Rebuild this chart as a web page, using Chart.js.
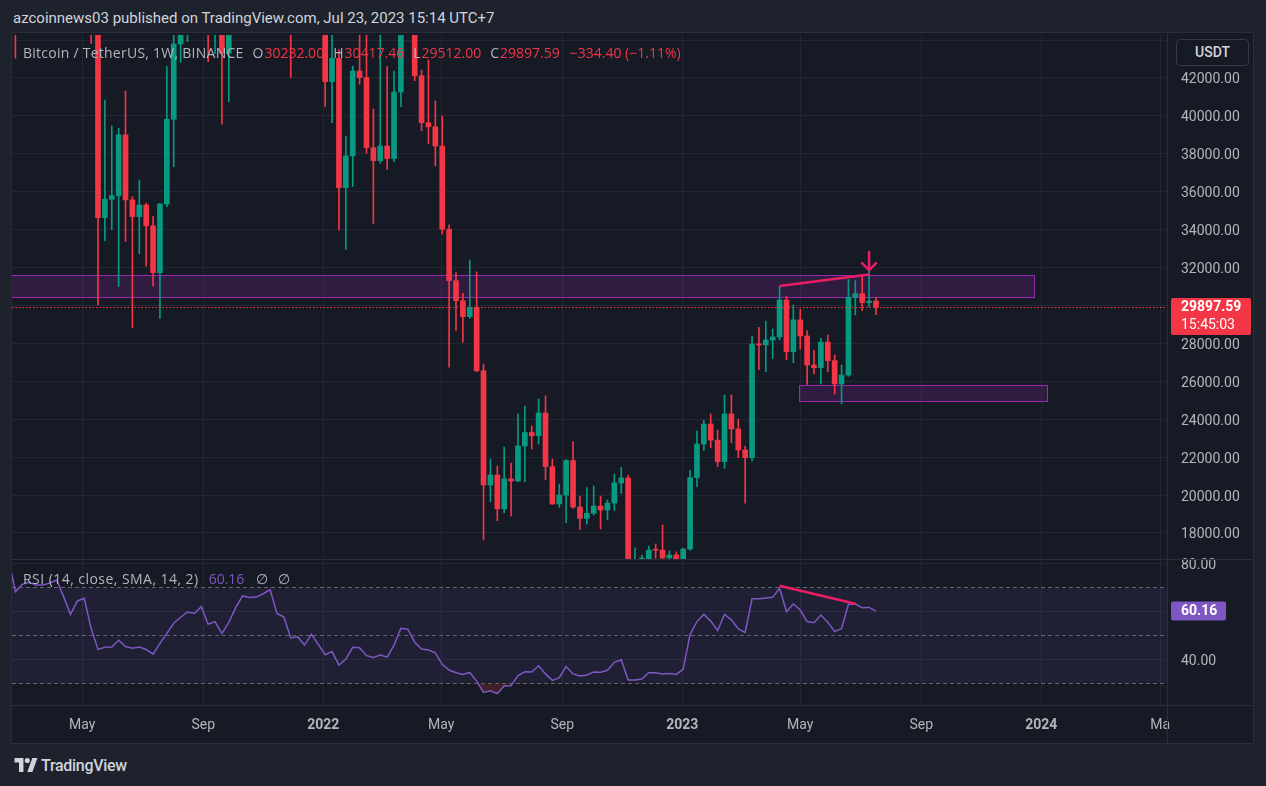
<!DOCTYPE html>
<html>
<head>
<meta charset="utf-8">
<script src="https://cdn.jsdelivr.net/npm/chart.js@4.4.0/dist/chart.umd.min.js"></script>
<style>
  html, body { margin: 0; padding: 0; }
  body { width: 1266px; height: 786px; background: #1e222d; position: relative; overflow: hidden; font-family: Roboto, "Noto Sans", sans-serif; }
  #header { position: absolute; left: 13px; top: 8px; font-size: 15px; line-height: 20px; color: #d1d4dc; white-space: nowrap; }
  #pane { position: absolute; left: 12px; top: 33px; width: 1241px; height: 710px; background: #161a25; outline: 1px solid #2a2e39; }
  .lg { position: absolute; font-family: "Open Sans", Roboto, sans-serif; font-size: 14px; line-height: 18px; color: #b2b5be; white-space: nowrap; }
  .lg .t1 { letter-spacing: 0.25px; }
  .lg .t2 { letter-spacing: 0.45px; }
  .lg .k { margin-left: 9px; }
  .lg .v { color: #f23645; margin-left: 1px; }
  .lg .ch { margin-left: 10px; }
  #usdt { position: absolute; left: 1176px; top: 39px; width: 71px; height: 25px; border: 1px solid #363a45; border-radius: 4px; background: #161a25; color: #d1d4dc; font-size: 14px; line-height: 25px; text-align: center; font-weight: 500; }
  #footer { position: absolute; left: 14px; top: 756px; height: 18px; display: flex; align-items: center; color: #d1d4dc; }
  #footer span { font-size: 16px; font-weight: 500; margin-left: 3px; letter-spacing: -0.3px; }
</style>
</head>
<body>
<div id="header">azcoinnews03 published on TradingView.com, Jul 23, 2023 15:14 UTC+7</div>
<div id="pane"><canvas id="chart" width="1241" height="710"></canvas></div>
<div class="lg" style="left:23px; top:44px;"><span class="t1">Bitcoin / TetherUS, 1W, BINANCE</span><span class="k">O</span><span class="v" id="lo"></span><span class="k">H</span><span class="v" id="lh"></span><span class="k">L</span><span class="v" id="ll"></span><span class="k">C</span><span class="v" id="lc"></span><span class="v ch" id="lchg"></span></div>
<div class="lg" style="left:23px; top:570px;"><span class="t2">RSI (14, close, SMA, 14, 2)</span><span id="lrsi" style="color:#7e57c2; margin-left:10px;"></span><span style="margin-left:12px;">∅</span><span style="margin-left:10px;">∅</span></div>
<div id="usdt">USDT</div>
<div id="footer">
  <svg width="24" height="14" viewBox="0 0 36 22"><path fill="#d1d4dc" d="M14 22H7V7H0V0h14v22zM28 22h-8L28 0h8L28 22z"/><circle fill="#d1d4dc" cx="20" cy="4" r="4"/></svg>
  <span>TradingView</span>
</div>
<script>
// weekly candles, first week starts 2021-02-15
const firstWeek = '2021-02-15';
const open = [48580, 57410, 45130, 50970, 59010, 57350, 55820, 58200, 60050, 56150, 49070, 56620, 58240,
  46430, 34630, 35600, 35800, 39000, 35570, 34690, 35300, 34200, 31730, 35350, 39820, 43790, 47050, 49250, 48800,
  51750, 46000, 47260, 43300, 48200, 54960, 61530, 60860, 61300, 63270, 65520, 58620, 57270, 49400, 50100, 46680,
  50780, 46220, 41810, 43040, 36220, 37890, 42370, 42020, 38330, 37640, 38410, 37750, 41260, 46820, 46410, 42120,
  39640, 39430, 38410, 34020, 31310, 30250, 29410, 29900, 26560, 20530, 21060, 19270, 20850, 20740, 22590, 23300,
  23130, 24330, 21500, 19530, 20000, 21820, 19370, 18770, 19040, 19420, 19210, 19580, 20640, 20900, 16330, 16450,
  16460, 17100, 17090, 16680, 16840, 16550, 17150, 20920, 22690, 23750, 22900, 21760, 24280, 23490, 22380, 21970,
  27970, 27920, 28180, 28340, 30290, 27560, 29240, 28390, 26860, 26720, 28070, 27090, 25860, 26330, 30430, 30620,
  30150, 30232];
const high = [58350, 57530, 52640, 61840, 60630, 58400, 60200, 61230, 64850, 57580, 58460, 59500, 59600,
  46640, 40840, 39470, 39350, 41310, 35740, 36620, 35400, 34690, 35390, 42600, 45300, 48140, 48980, 50500, 52920,
  52920, 48840, 47350, 48500, 56110, 62930, 67000, 63710, 64270, 69000, 66280, 59270, 59180, 51940, 50300, 51880,
  52090, 47570, 44500, 43510, 38940, 42630, 45820, 44750, 40370, 45400, 42600, 42370, 47700, 48190, 47440, 42420,
  42950, 40790, 40000, 34250, 31730, 30640, 32400, 31770, 26910, 21900, 21530, 22530, 21690, 24280, 24700, 23640,
  25070, 25230, 21900, 20580, 21870, 22820, 19950, 20390, 20480, 19950, 19740, 21110, 21460, 21060, 17210, 16840,
  17310, 17420, 18420, 17050, 17000, 17210, 21290, 23380, 23960, 24280, 23430, 25280, 25280, 24010, 22590, 28390,
  28850, 29180, 28760, 30990, 30500, 30030, 29800, 28670, 27650, 28270, 28440, 27390, 26860, 31370, 31310, 31610,
  31800, 30417.46];
const low = [46900, 43040, 44950, 49270, 53270, 50310, 55440, 55470, 51540, 47060, 48810, 53060, 43830,
  30030, 33420, 34000, 31000, 33370, 28830, 32720, 32080, 31030, 29320, 35210, 37320, 42830, 43920, 46350, 46510,
  42860, 43300, 39570, 40750, 46900, 53880, 59510, 57800, 59410, 62280, 55600, 53250, 42020, 47110, 45460, 45560,
  45680, 40490, 39640, 33980, 32960, 36270, 41670, 38030, 34330, 37500, 37180, 37590, 40490, 45200, 41860, 39220,
  38550, 37360, 33770, 26740, 28670, 28060, 29320, 26500, 17630, 19650, 18650, 19070, 18900, 20710, 20710, 22430,
  22690, 20800, 19500, 19350, 18540, 19300, 18190, 18470, 18950, 18210, 18690, 19180, 20090, 15590, 15820, 15480,
  15990, 16660, 16530, 16560, 16330, 16500, 17090, 20440, 22340, 22500, 21500, 21410, 22760, 21970, 19570, 21800,
  26610, 26510, 27200, 28180, 27140, 26980, 27690, 25840, 26390, 25860, 26510, 25330, 24800, 26260, 29500, 29730,
  29940, 29512];
const close = [57410, 45130, 50970, 59010, 57350, 55820, 58200, 60050, 56150, 49070, 56620, 58240, 46430,
  34630, 35600, 35800, 39000, 35570, 34690, 35300, 34200, 31730, 35350, 39820, 43790, 47050, 49250, 48800, 51750,
  46000, 47260, 43300, 48200, 54960, 61530, 60860, 61300, 63270, 65520, 58620, 57270, 49400, 50100, 46680, 50780,
  46220, 41810, 43040, 36220, 37890, 42370, 42020, 38330, 37640, 38410, 37750, 41260, 46820, 46410, 42120, 39640,
  39430, 38410, 34020, 31310, 30250, 29410, 29900, 26560, 20530, 21060, 19270, 20850, 20740, 22590, 23300, 23130,
  24330, 21500, 19530, 20000, 21820, 19370, 18770, 19040, 19420, 19210, 19580, 20640, 20900, 16330, 16450, 16460,
  17100, 17090, 16680, 16840, 16550, 17150, 20920, 22690, 23750, 22900, 21760, 24280, 23490, 22380, 21970, 27970,
  27920, 28180, 28340, 30290, 27560, 29240, 28390, 26860, 26720, 28070, 27090, 25860, 26330, 30430, 30620, 30150,
  30231.99, 29897.59];
const rsi = [82, 68.3, 71.3, 72.2, 71.0, 71.0, 71.9, 73.1, 66.2, 58.8, 64.4, 65.5, 53.0,
  44.2, 45.1, 45.2, 48.0, 45.4, 44.7, 45.2, 44.2, 42.2, 46.7, 50.9, 55.1, 57.6, 59.8, 59.2, 62.0,
  54.7, 55.8, 50.8, 55.5, 61.6, 66.5, 65.8, 66.0, 67.4, 69.1, 59.2, 57.7, 49.0, 49.5, 46.0, 50.5,
  46.3, 42.0, 43.3, 37.7, 40.2, 45.1, 44.9, 41.6, 40.8, 41.9, 41.0, 46.0, 53.0, 52.6, 47.2, 44.4,
  44.0, 42.8, 38.0, 35.6, 34.5, 33.8, 34.6, 31.0, 26.3, 27.0, 25.8, 29.0, 29.1, 33.3, 34.9, 34.8,
  37.4, 34.0, 31.3, 32.4, 37.1, 34.0, 33.1, 33.5, 34.8, 34.7, 35.5, 38.8, 39.9, 31.5, 31.5, 31.9,
  34.5, 34.5, 34.0, 34.2, 33.8, 36.0, 50.5, 55.8, 58.8, 56.0, 52.1, 58.8, 56.5, 52.7, 51.3, 65.3,
  65.3, 65.6, 65.9, 69.7, 59.9, 63.1, 60.6, 55.8, 55.3, 58.5, 55.5, 51.7, 52.8, 63.0, 63.1, 61.6,
  61.7, 60.16];

const tickDates = ['2021-05-01', '2021-09-01', '2022-01-01', '2022-05-01', '2022-09-01', '2023-01-01', '2023-05-01', '2023-09-01', '2024-01-01', '2024-05-01'];
const tickLabels = ['May', 'Sep', '2022', 'May', 'Sep', '2023', 'May', 'Sep', '2024', 'Ma'];
const priceTicks = [18000, 20000, 22000, 24000, 26000, 28000, 30000, 32000, 34000, 36000, 38000, 40000, 42000, 44000];
const rsiTicks = [40, 60, 80];
const rsiLevels = [70, 50, 30];

// drawings on the chart
const zones = [['2021-01-04', '2023-12-25', 30430, 31610], ['2023-04-30', '2024-01-07', 24980, 25810]];
const priceTrend = [['2023-04-10', 31030], ['2023-07-10', 31640]];
const rsiTrend = [['2023-04-10', 70.7], ['2023-06-26', 63.2]];
const arrowMark = ['2023-07-10', 32820, 31870];
const countdown = '15:45:03';

const UP = '#089981', DOWN = '#f23645', GRID = '#232734', TEXT = '#b2b5be', PINK = '#e91e63';
const dayOf = s => (Date.parse(s + 'T00:00:00Z') - Date.UTC(2021, 0, 1)) / 864e5;
const weekDays = open.map((_, i) => dayOf(firstWeek) + 7 * i);
const last = close.length - 1;

document.getElementById('lo').textContent = open[last].toFixed(2);
document.getElementById('lh').textContent = high[last].toFixed(2);
document.getElementById('ll').textContent = low[last].toFixed(2);
document.getElementById('lc').textContent = close[last].toFixed(2);
const chg = close[last] - close[last - 1];
document.getElementById('lchg').textContent = (chg < 0 ? '−' : '+') + Math.abs(chg).toFixed(2) + ' (' + (chg < 0 ? '−' : '+') + Math.abs(chg / close[last - 1] * 100).toFixed(2) + '%)';
document.getElementById('lrsi').textContent = rsi[last].toFixed(2);

Chart.defaults.font.family = 'Roboto';

// clip every dataset to its own pane
const paneClip = {
  id: 'paneClip',
  beforeDatasetDraw(chart, args) {
    const ys = chart.scales[args.meta.yAxisID], ca = chart.chartArea, ctx = chart.ctx;
    ctx.save();
    ctx.beginPath();
    ctx.rect(ca.left, ys.top, ca.right - ca.left, ys.bottom - ys.top);
    ctx.clip();
  },
  afterDatasetDraw(chart) { chart.ctx.restore(); }
};

const overlay = {
  id: 'overlay',
  beforeDatasetsDraw(chart) {
    const { ctx, chartArea: ca, scales: { x, y, rsi: r } } = chart;
    ctx.save();
    ctx.beginPath();
    ctx.rect(ca.left, y.top, ca.right - ca.left, y.bottom - y.top);
    ctx.clip();
    zones.forEach(([d0, d1, p0, p1]) => {
      const x0 = Math.round(x.getPixelForValue(dayOf(d0))), x1 = Math.round(x.getPixelForValue(dayOf(d1)));
      const y0 = Math.round(y.getPixelForValue(p1)), y1 = Math.round(y.getPixelForValue(p0));
      ctx.fillStyle = 'rgba(156,39,176,0.2)';
      ctx.fillRect(x0, y0, x1 - x0, y1 - y0);
      ctx.strokeStyle = '#9c27b0';
      ctx.lineWidth = 1;
      ctx.strokeRect(x0 + 0.5, y0 + 0.5, x1 - x0, y1 - y0);
    });
    ctx.restore();

    ctx.save();
    const b0 = r.getPixelForValue(rsiLevels[0]), b1 = r.getPixelForValue(rsiLevels[2]);
    ctx.fillStyle = 'rgba(126,87,194,0.1)';
    ctx.fillRect(ca.left, b0, ca.right - ca.left, b1 - b0);
    ctx.strokeStyle = '#61646f';
    ctx.lineWidth = 1;
    ctx.setLineDash([4, 3]);
    rsiLevels.forEach(v => {
      const py = Math.round(r.getPixelForValue(v)) + 0.5;
      ctx.beginPath(); ctx.moveTo(ca.left, py); ctx.lineTo(ca.right, py); ctx.stroke();
    });
    ctx.restore();
  },
  afterDatasetsDraw(chart) {
    const { ctx, chartArea: ca, scales: { x, y } } = chart;
    ctx.save();
    const py = Math.round(y.getPixelForValue(close[last])) + 0.5;
    ctx.strokeStyle = DOWN;
    ctx.lineWidth = 1;
    ctx.setLineDash([1.5, 2]);
    ctx.beginPath(); ctx.moveTo(ca.left, py); ctx.lineTo(ca.right, py); ctx.stroke();
    ctx.setLineDash([]);
    // arrow mark
    const ax = x.getPixelForValue(dayOf(arrowMark[0]));
    const aTop = y.getPixelForValue(arrowMark[1]), aTip = y.getPixelForValue(arrowMark[2]);
    ctx.strokeStyle = PINK;
    ctx.lineWidth = 2.5;
    ctx.lineCap = 'round';
    ctx.lineJoin = 'round';
    ctx.beginPath();
    ctx.moveTo(ax, aTop); ctx.lineTo(ax, aTip);
    ctx.moveTo(ax - 7, aTip - 7); ctx.lineTo(ax, aTip); ctx.lineTo(ax + 7, aTip - 7);
    ctx.stroke();
    ctx.restore();
  },
  afterDraw(chart) {
    const { ctx, chartArea: ca, scales: { y, rsi: r } } = chart;
    const W = chart.width, H = chart.height;
    ctx.save();
    ctx.strokeStyle = '#2a2e39';
    ctx.lineWidth = 1;
    ctx.beginPath();
    ctx.moveTo(0, Math.round(r.top) + 0.5); ctx.lineTo(W, Math.round(r.top) + 0.5);
    ctx.moveTo(Math.round(ca.right) + 0.5, 0); ctx.lineTo(Math.round(ca.right) + 0.5, H);
    ctx.moveTo(0, Math.round(ca.bottom) + 0.5); ctx.lineTo(W, Math.round(ca.bottom) + 0.5);
    ctx.stroke();

    // last price tag
    const py = y.getPixelForValue(close[last]);
    ctx.fillStyle = DOWN;
    ctx.beginPath(); ctx.roundRect(ca.right + 4, py - 9.5, 80, 37, 2); ctx.fill();
    ctx.fillStyle = '#ffffff';
    ctx.textAlign = 'left';
    ctx.textBaseline = 'middle';
    ctx.font = 'bold 14px Roboto';
    ctx.fillText(close[last].toFixed(2), ca.right + 14, py + 0.5);
    ctx.font = '14px Roboto';
    ctx.fillText(countdown, ca.right + 14, py + 18.5);

    // rsi tag
    const ry = r.getPixelForValue(rsi[last]);
    ctx.fillStyle = '#7e57c2';
    ctx.beginPath(); ctx.roundRect(ca.right + 4, ry - 9.5, 55, 19, 2); ctx.fill();
    ctx.fillStyle = '#ffffff';
    ctx.font = 'bold 14px Roboto';
    ctx.fillText(rsi[last].toFixed(2), ca.right + 14, ry + 0.5);
    ctx.restore();
  }
};

const pts = arr => arr.map(([d, v]) => ({ x: dayOf(d), y: v }));
const noPad = s => { s.paddingTop = 0; s.paddingBottom = 0; s.paddingLeft = 0; s.paddingRight = 0; };

new Chart(document.getElementById('chart'), {
  type: 'bar',
  data: {
    datasets: [
      { type: 'line', data: pts(priceTrend), yAxisID: 'y', borderColor: PINK, borderWidth: 2.5, pointRadius: 0, order: 0 },
      { type: 'line', data: pts(rsiTrend), yAxisID: 'rsi', borderColor: PINK, borderWidth: 2.5, pointRadius: 0, order: 0 },
      {
        data: weekDays.map((d, i) => ({ x: d, y: [open[i], close[i]] })), yAxisID: 'y',
        backgroundColor: close.map((c, i) => c >= open[i] ? UP : DOWN),
        barThickness: 5, minBarLength: 1, grouped: false, borderWidth: 0, order: 1
      },
      {
        data: weekDays.map((d, i) => ({ x: d, y: [low[i], high[i]] })), yAxisID: 'y',
        backgroundColor: close.map((c, i) => c >= open[i] ? UP : DOWN),
        barThickness: 1, grouped: false, borderWidth: 0, order: 2
      },
      {
        type: 'line', data: weekDays.map((d, i) => ({ x: d, y: rsi[i] })), yAxisID: 'rsi',
        borderColor: '#7e57c2', borderWidth: 1.5, pointRadius: 0, tension: 0,
        fill: { value: 30, above: 'rgba(0,0,0,0)', below: 'rgba(242,54,69,0.2)' }, order: 3
      }
    ]
  },
  options: {
    responsive: false,
    animation: false,
    events: [],
    layout: { padding: { top: 2, left: 0, right: 0, bottom: 0 } },
    plugins: { legend: { display: false }, tooltip: { enabled: false } },
    scales: {
      x: {
        type: 'linear', min: 48.57, max: 1222.9, offset: false,
        grid: { color: GRID, offset: false, drawTicks: false },
        border: { display: false },
        afterBuildTicks: s => { s.ticks = tickDates.map(d => ({ value: dayOf(d) })); },
        afterFit: s => { s.height = 38; noPad(s); },
        ticks: {
          color: TEXT, padding: 12, maxRotation: 0, autoSkip: false,
          font: c => ({ size: 14, weight: /^\d{4}$/.test(tickLabels[c.index]) ? 'bold' : 'normal' }),
          callback: (v, i) => tickLabels[i]
        }
      },
      y: {
        type: 'linear', position: 'right', stack: 'panes', stackWeight: 524,
        min: 16627, max: 44268, beginAtZero: false,
        grid: { color: GRID, drawTicks: false },
        border: { display: false },
        afterBuildTicks: s => { s.ticks = priceTicks.map(v => ({ value: v })); },
        afterFit: s => { s.width = 86; noPad(s); },
        ticks: { color: TEXT, padding: 14, labelOffset: 2, autoSkip: false, font: { size: 14 }, callback: v => v > 43000 ? '' : v.toFixed(2) }
      },
      rsi: {
        type: 'linear', position: 'right', stack: 'panes', stackWeight: 146,
        min: 21.04, max: 81.875,
        grid: { color: GRID, drawTicks: false },
        border: { display: false },
        afterBuildTicks: s => { s.ticks = rsiTicks.map(v => ({ value: v })); },
        afterFit: s => { s.width = 86; noPad(s); },
        ticks: { color: TEXT, padding: 14, labelOffset: 2, autoSkip: false, font: { size: 14 }, callback: v => v.toFixed(2) }
      }
    }
  },
  plugins: [paneClip, overlay]
});
</script>
</body>
</html>
